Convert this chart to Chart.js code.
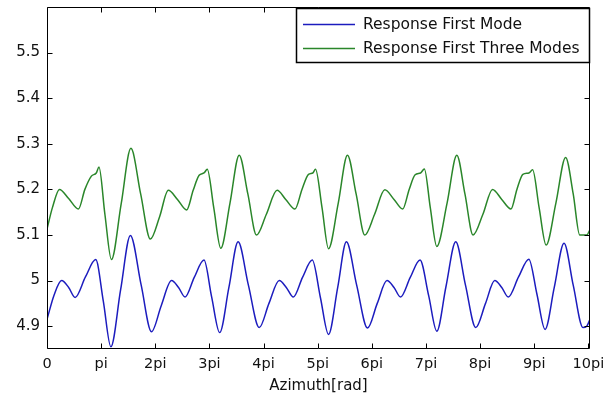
<!DOCTYPE html>
<html>
<head>
<meta charset="utf-8">
<script src="https://cdn.jsdelivr.net/npm/chart.js@4/dist/chart.umd.min.js"></script>
<style>
  html, body { margin: 0; padding: 0; background: #fff; }
  #wrap { width: 608px; height: 396px; }
</style>
</head>
<body>
<div id="wrap"><canvas id="c" width="608" height="396"></canvas></div>
<script>
// Azimuth is stored in multiples of pi.
const firstModeX = [
  0, 0.13, 0.27, 0.4, 0.52, 0.71, 0.9, 1.04, 1.18, 1.36, 1.54, 1.74, 1.93,
  2.11, 2.3, 2.43, 2.55, 2.72, 2.9, 3.04, 3.19, 3.36, 3.53, 3.72, 3.92,
  4.1, 4.29, 4.42, 4.55, 4.72, 4.9, 5.05, 5.2, 5.37, 5.53, 5.72, 5.92,
  6.1, 6.28, 6.41, 6.53, 6.71, 6.89, 7.05, 7.2, 7.37, 7.55, 7.73, 7.92,
  8.1, 8.27, 8.4, 8.52, 8.71, 8.9, 9.05, 9.2, 9.37, 9.55, 9.72, 9.9, 9.97, 10.03
];
const firstModeY = [
  4.915, 4.968, 5.0, 4.985, 4.963, 5.008, 5.046, 4.955, 4.855, 4.98, 5.099, 4.99, 4.888,
  4.945, 5.0, 4.985, 4.964, 5.007, 5.045, 4.965, 4.886, 4.985, 5.085, 4.99, 4.897,
  4.95, 5.0, 4.985, 4.964, 5.007, 5.045, 4.963, 4.882, 4.985, 5.085, 4.99, 4.896,
  4.95, 5.0, 4.985, 4.964, 5.007, 5.045, 4.967, 4.889, 4.987, 5.085, 4.99, 4.897,
  4.95, 5.0, 4.985, 4.964, 5.008, 5.047, 4.97, 4.893, 4.985, 5.082, 4.99, 4.897, 4.9, 4.915
];

const threeModesX = [
  0, 0.1, 0.23, 0.4, 0.58, 0.7, 0.82, 0.91, 0.96, 1.07, 1.19, 1.37, 1.55, 1.73, 1.91,
  2.08, 2.24, 2.41, 2.58, 2.7, 2.81, 2.9, 2.96, 3.08, 3.21, 3.38, 3.55, 3.71, 3.87,
  4.05, 4.25, 4.41, 4.58, 4.71, 4.83, 4.91, 4.96, 5.08, 5.2, 5.38, 5.55, 5.71, 5.87,
  6.05, 6.24, 6.41, 6.57, 6.69, 6.8, 6.9, 6.97, 7.08, 7.2, 7.39, 7.57, 7.72, 7.87,
  8.05, 8.23, 8.4, 8.57, 8.68, 8.79, 8.9, 8.97, 9.09, 9.22, 9.4, 9.58, 9.72, 9.84, 9.97, 10.03
];
const threeModesY = [
  5.113, 5.16, 5.2, 5.18, 5.157, 5.2, 5.229, 5.236, 5.249, 5.145, 5.046, 5.168, 5.29, 5.19, 5.091,
  5.14, 5.198, 5.178, 5.155, 5.198, 5.231, 5.236, 5.244, 5.16, 5.071, 5.17, 5.275, 5.19, 5.1,
  5.145, 5.198, 5.178, 5.157, 5.2, 5.233, 5.236, 5.244, 5.16, 5.07, 5.17, 5.275, 5.19, 5.1,
  5.145, 5.199, 5.178, 5.157, 5.2, 5.232, 5.236, 5.245, 5.16, 5.075, 5.17, 5.275, 5.19, 5.1,
  5.145, 5.2, 5.178, 5.157, 5.2, 5.233, 5.236, 5.243, 5.16, 5.078, 5.17, 5.27, 5.19, 5.1, 5.1, 5.112
];

const xTickValues = [0, 1, 2, 3, 4, 5, 6, 7, 8, 9, 10];
const xTickLabels = ['0', 'pi', '2pi', '3pi', '4pi', '5pi', '6pi', '7pi', '8pi', '9pi', '10pi'];
const yTickValues = [4.9, 5.0, 5.1, 5.2, 5.3, 5.4, 5.5];
const yTickLabels = ['4.9', '5', '5.1', '5.2', '5.3', '5.4', '5.5'];
const seriesNames = ['Response First Mode', 'Response First Three Modes'];
const seriesColors = ['#1c1cbe', '#2a862a'];

const toPoints = (xs, ys) => xs.map((v, i) => ({ x: v, y: ys[i] }));
const FONT = 'DejaVu Sans';

// Box, inward tick marks on all four sides, and the in-plot legend.
const framePlugin = {
  id: 'frame',
  afterDatasetsDraw(chart) {
    const { ctx, chartArea: a, scales: { x, y } } = chart;
    const L = Math.round(a.left) + 0.5, R = Math.round(a.right) - 0.5;
    const T = Math.round(a.top) + 0.5, B = Math.round(a.bottom) - 0.5;
    const tick = 5;
    ctx.save();
    ctx.strokeStyle = '#000';
    ctx.lineWidth = 1;
    ctx.beginPath();
    ctx.rect(L, T, R - L, B - T);
    xTickValues.forEach(v => {
      const px = Math.round(x.getPixelForValue(v)) + 0.5;
      ctx.moveTo(px, B); ctx.lineTo(px, B - tick);
      ctx.moveTo(px, T); ctx.lineTo(px, T + tick);
    });
    yTickValues.forEach(v => {
      const py = Math.round(y.getPixelForValue(v)) + 0.5;
      ctx.moveTo(L, py); ctx.lineTo(L + tick, py);
      ctx.moveTo(R, py); ctx.lineTo(R - tick, py);
    });
    ctx.stroke();

    // legend
    const lx = 296.5, ly = 8.5, lw = 293, lh = 54;
    ctx.fillStyle = '#fff';
    ctx.fillRect(lx, ly, lw, lh);
    ctx.lineWidth = 1.5;
    ctx.strokeRect(lx, ly, lw, lh);
    ctx.font = '15.5px "' + FONT + '"';
    ctx.textBaseline = 'middle';
    ctx.textAlign = 'left';
    chart.data.datasets.forEach((ds, i) => {
      const cy = 24.5 + i * 24;
      ctx.strokeStyle = ds.borderColor;
      ctx.lineWidth = 1.3;
      ctx.beginPath();
      ctx.moveTo(303, cy); ctx.lineTo(355, cy);
      ctx.stroke();
      ctx.fillStyle = '#111';
      ctx.fillText(ds.label, 363, cy);
    });
    ctx.restore();
  }
};

new Chart(document.getElementById('c'), {
  type: 'line',
  data: {
    datasets: [
      { label: seriesNames[0], data: toPoints(firstModeX, firstModeY), borderColor: seriesColors[0] },
      { label: seriesNames[1], data: toPoints(threeModesX, threeModesY), borderColor: seriesColors[1] }
    ].map(d => Object.assign(d, {
      borderWidth: 1.5, pointRadius: 0, fill: false, cubicInterpolationMode: 'monotone'
    }))
  },
  options: {
    responsive: false,
    animation: false,
    devicePixelRatio: 1,
    layout: { padding: { top: 7, right: 18, left: 0, bottom: 0 } },
    plugins: { legend: { display: false }, tooltip: { enabled: false } },
    scales: {
      x: {
        type: 'linear', min: 0, max: 10.03,
        afterBuildTicks: s => { s.ticks = xTickValues.map(v => ({ value: v })); },
        afterFit: s => { s.height = 47; s.paddingLeft = 0; s.paddingRight = 0; },
        grid: { display: false, drawTicks: false },
        border: { display: false },
        ticks: {
          autoSkip: false, maxRotation: 0, padding: 7, color: '#111',
          font: { family: FONT, size: 14.5 },
          callback: v => xTickLabels[xTickValues.indexOf(v)]
        },
        title: {
          display: true, text: 'Azimuth[rad]', color: '#111',
          font: { family: FONT, size: 15 }, padding: { top: 0, bottom: 1 }
        }
      },
      y: {
        type: 'linear', min: 4.85, max: 5.6,
        afterBuildTicks: s => { s.ticks = yTickValues.map(v => ({ value: v })); },
        afterFit: s => { s.width = 47; s.paddingTop = 0; s.paddingBottom = 0; },
        grid: { display: false, drawTicks: false },
        border: { display: false },
        ticks: {
          padding: 7, color: '#111',
          font: { family: FONT, size: 15 },
          callback: v => yTickLabels[yTickValues.findIndex(t => Math.abs(t - v) < 1e-9)]
        }
      }
    }
  },
  plugins: [framePlugin]
});
</script>
</body>
</html>
